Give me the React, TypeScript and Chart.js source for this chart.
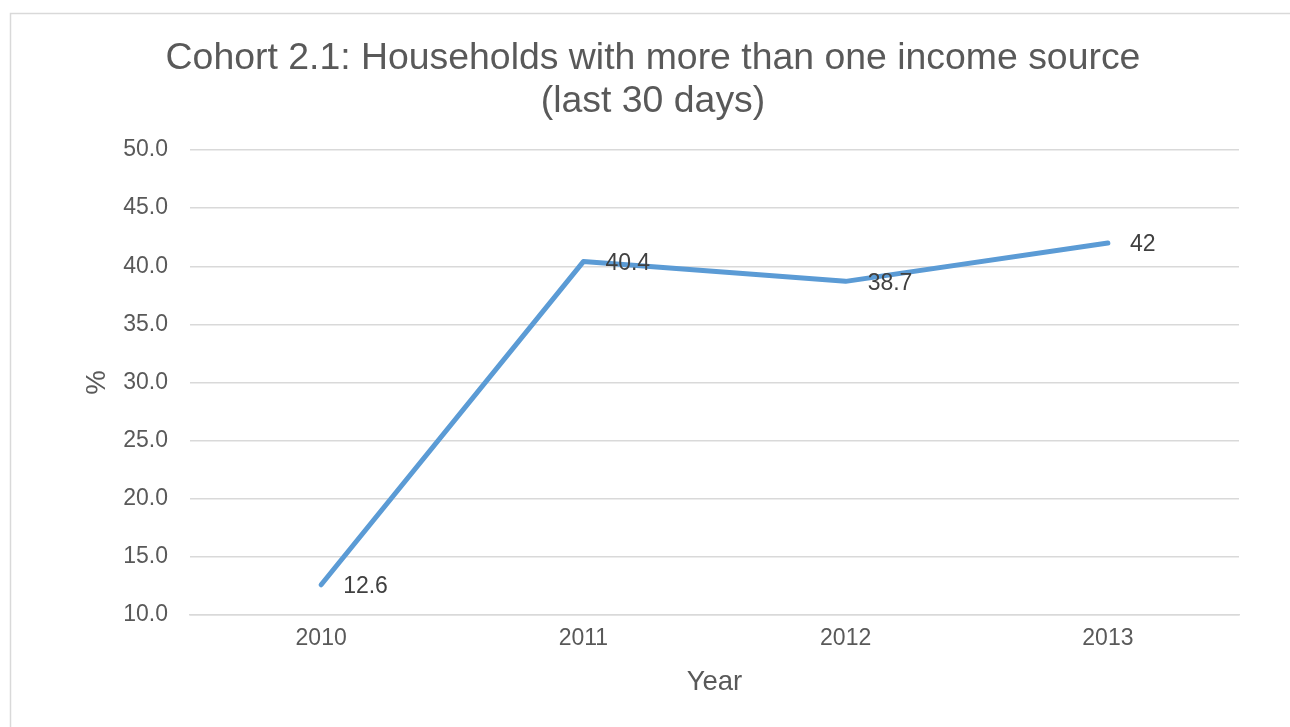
import React, { useEffect, useRef } from "react";
import { Chart, registerables } from "chart.js";

Chart.register(...registerables);

const categories = ["2010", "2011", "2012", "2013"];
const seriesValues = [12.6, 40.4, 38.7, 42];
const dataLabels = ["12.6", "40.4", "38.7", "42"];
const titleLines = ["Cohort 2.1: Households with more than one income source", "(last 30 days)"];
const yMin = 10;
const yMax = 50;
const yStep = 5;

const FONT = "'Liberation Sans', Arial, sans-serif";

const framePlugin = {
  id: "frame",
  beforeDraw(chart: any) {
    const ctx = chart.ctx;
    ctx.save();
    ctx.fillStyle = "#ffffff";
    ctx.fillRect(0, 0, chart.width, chart.height);
    ctx.strokeStyle = "#d9d9d9";
    ctx.lineWidth = 1.5;
    ctx.strokeRect(10.5, 13.5, 1400, 800);
    ctx.restore();
  },
};

const titlePlugin = {
  id: "customTitle",
  afterDraw(chart: any) {
    const ctx = chart.ctx;
    ctx.save();
    ctx.fillStyle = "#595959";
    ctx.font = `37.4px ${FONT}`;
    ctx.textAlign = "center";
    ctx.textBaseline = "middle";
    ctx.fillText(titleLines[0], 653, 59);
    ctx.fillText(titleLines[1], 653, 102);
    ctx.restore();
  },
};

const labelPlugin = {
  id: "pointLabels",
  afterDatasetsDraw(chart: any) {
    const ctx = chart.ctx;
    const meta = chart.getDatasetMeta(0);
    ctx.save();
    ctx.fillStyle = "#404040";
    ctx.font = `23px ${FONT}`;
    ctx.textAlign = "left";
    ctx.textBaseline = "middle";
    meta.data.forEach((pt: any, i: number) => {
      ctx.fillText(dataLabels[i], pt.x + 22, pt.y + 2);
    });
    ctx.restore();
  },
};

export default function App() {
  const ref = useRef<HTMLCanvasElement | null>(null);

  useEffect(() => {
    if (!ref.current) return;
    const chart = new Chart(ref.current, {
      type: "line",
      data: {
        labels: categories,
        datasets: [
          {
            data: seriesValues,
            borderColor: "#5b9bd5",
            borderWidth: 5,
            pointRadius: 0,
            pointHoverRadius: 0,
            borderCapStyle: "round",
            borderJoinStyle: "round",
            tension: 0,
            fill: false,
          },
        ],
      },
      options: {
        animation: false,
        responsive: true,
        maintainAspectRatio: false,
        layout: { padding: { top: 150, left: 0, right: 51, bottom: 0 } },
        plugins: {
          legend: { display: false },
          title: { display: false },
          tooltip: { enabled: false },
        },
        scales: {
          x: {
            offset: true,
            grid: { display: false, drawTicks: false },
            border: { display: true, color: "#d9d9d9", width: 1.5 },
            ticks: {
              color: "#595959",
              font: { family: FONT, size: 23 },
              padding: 10,
              maxRotation: 0,
            },
            title: {
              display: true,
              text: "Year",
              color: "#595959",
              font: { family: FONT, size: 27.5 },
              padding: { top: 28, bottom: 28 },
            },
            afterFit(scale: any) {
              scale.height = 112;
            },
          },
          y: {
            min: yMin,
            max: yMax,
            grid: { color: "#d9d9d9", lineWidth: 1.5, drawTicks: false },
            border: { display: false },
            ticks: {
              stepSize: yStep,
              color: "#595959",
              font: { family: FONT, size: 23 },
              padding: 22,
              callback: (v: any) => Number(v).toFixed(1),
            },
            title: {
              display: true,
              text: "%",
              color: "#595959",
              font: { family: FONT, size: 27.5 },
              padding: { top: 81, bottom: 81 },
            },
            afterFit(scale: any) {
              scale.width = 190;
            },
          },
        },
      },
      plugins: [framePlugin, titlePlugin, labelPlugin],
    } as any);
    return () => chart.destroy();
  }, []);

  return (
    <div style={{ position: "absolute", left: 0, top: 0, width: "1290px", height: "727px" }}>
      <canvas ref={ref} />
    </div>
  );
}
